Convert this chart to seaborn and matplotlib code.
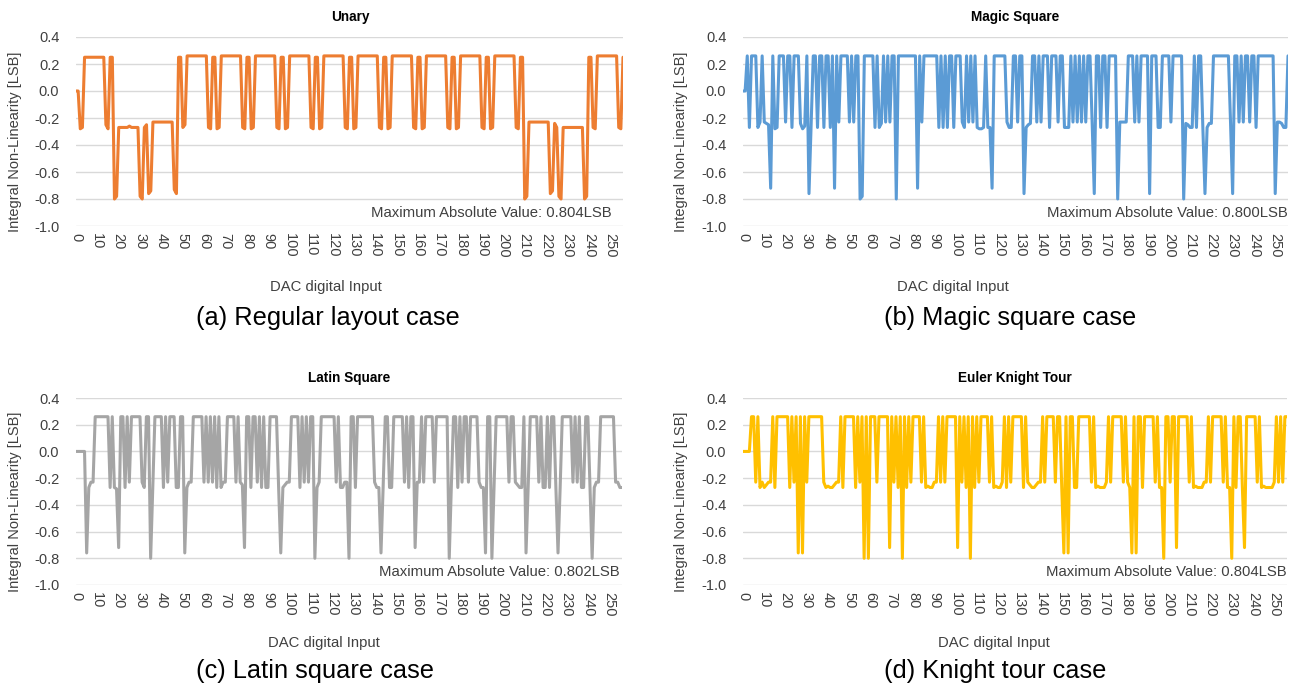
import matplotlib
matplotlib.use("Agg")
import matplotlib.pyplot as plt
import seaborn as sns
import pandas as pd
from matplotlib.ticker import FormatStrFormatter

# ---------------- data (INL in LSB for DAC codes 0..256) ----------------
unary = [
    0, 0, -0.28, -0.27, 0.25, 0.25, 0.25, 0.25, 0.25, 0.25,
    0.25, 0.25, 0.25, 0.25, -0.25, -0.28, 0.25, 0.25, -0.80, -0.78,
    -0.27, -0.27, -0.27, -0.27, -0.27, -0.26, -0.27, -0.27, -0.27, -0.27,
    -0.78, -0.80, -0.27, -0.25, -0.76, -0.74, -0.23, -0.23, -0.23, -0.23,
    -0.23, -0.23, -0.23, -0.23, -0.23, -0.23, -0.73, -0.76, 0.25, 0.25,
    -0.27, -0.25, 0.26, 0.26, 0.26, 0.26, 0.26, 0.26, 0.26, 0.26,
    0.26, 0.26, -0.27, -0.28, 0.25, 0.25, -0.28, -0.27, 0.26, 0.26,
    0.26, 0.26, 0.26, 0.26, 0.26, 0.26, 0.26, 0.26, -0.27, -0.28,
    0.25, 0.25, -0.28, -0.27, 0.26, 0.26, 0.26, 0.26, 0.26, 0.26,
    0.26, 0.26, 0.26, 0.26, -0.27, -0.28, 0.25, 0.25, -0.28, -0.27,
    0.26, 0.26, 0.26, 0.26, 0.26, 0.26, 0.26, 0.26, 0.26, 0.26,
    -0.27, -0.28, 0.25, 0.25, -0.28, -0.27, 0.26, 0.26, 0.26, 0.26,
    0.26, 0.26, 0.26, 0.26, 0.26, 0.26, -0.27, -0.28, 0.25, 0.25,
    -0.28, -0.27, 0.26, 0.26, 0.26, 0.26, 0.26, 0.26, 0.26, 0.26,
    0.26, 0.26, -0.27, -0.28, 0.25, 0.25, -0.28, -0.27, 0.26, 0.26,
    0.26, 0.26, 0.26, 0.26, 0.26, 0.26, 0.26, 0.26, -0.27, -0.28,
    0.25, 0.25, -0.28, -0.27, 0.26, 0.26, 0.26, 0.26, 0.26, 0.26,
    0.26, 0.26, 0.26, 0.26, -0.27, -0.28, 0.25, 0.25, -0.28, -0.27,
    0.26, 0.26, 0.26, 0.26, 0.26, 0.26, 0.26, 0.26, 0.26, 0.26,
    -0.27, -0.28, 0.25, 0.25, -0.28, -0.27, 0.26, 0.26, 0.26, 0.26,
    0.26, 0.26, 0.26, 0.26, 0.26, 0.26, -0.27, -0.28, 0.25, 0.25,
    -0.80, -0.78, -0.23, -0.23, -0.23, -0.23, -0.23, -0.23, -0.23, -0.23,
    -0.23, -0.23, -0.76, -0.74, -0.24, -0.27, -0.78, -0.80, -0.27, -0.27,
    -0.27, -0.27, -0.27, -0.27, -0.27, -0.27, -0.27, -0.27, -0.80, -0.78,
    0.25, 0.25, -0.27, -0.28, 0.26, 0.26, 0.26, 0.26, 0.26, 0.26,
    0.26, 0.26, 0.26, 0.26, -0.27, -0.28, 0.25,
]

magic = [
    0, 0, 0.26, -0.27, 0.26, 0.26, 0.26, -0.27, -0.23, 0.26,
    -0.23, -0.24, -0.25, -0.72, 0.26, -0.28, -0.27, 0.26, 0.26, 0.26,
    -0.23, 0.26, 0.26, -0.27, 0.26, 0.26, 0.26, -0.24, -0.28, -0.26,
    0.26, -0.76, -0.25, 0.26, 0.26, -0.27, 0.26, 0.26, -0.27, 0.26,
    0.26, -0.27, 0.26, -0.72, 0.26, -0.23, 0.26, 0.26, 0.26, 0.26,
    -0.23, 0.26, -0.23, 0.26, 0.26, -0.80, -0.78, 0.26, 0.26, 0.26,
    0.26, 0.26, -0.27, 0.26, -0.27, -0.24, 0.26, -0.23, 0.26, -0.23,
    0.26, 0.26, -0.80, 0.26, 0.26, 0.26, 0.26, 0.26, 0.26, 0.26,
    0.26, 0.26, -0.72, 0.26, -0.23, 0.26, 0.26, 0.26, 0.26, 0.26,
    0.26, 0.26, -0.27, 0.26, -0.27, 0.26, -0.27, 0.26, 0.26, -0.27,
    0.26, 0.26, 0.26, -0.23, -0.27, 0.26, -0.23, 0.26, -0.23, 0.26,
    -0.27, -0.28, -0.28, -0.27, 0.26, -0.27, -0.27, -0.72, 0.26, 0.26,
    0.26, 0.26, 0.26, 0.26, -0.23, -0.27, -0.27, 0.26, 0.26, -0.23,
    0.26, 0.26, -0.76, -0.27, -0.25, -0.24, 0.26, 0.26, -0.23, 0.26,
    -0.23, 0.26, 0.26, 0.26, -0.27, 0.26, 0.26, 0.26, -0.23, 0.26,
    0.26, -0.27, -0.27, -0.27, 0.26, -0.23, 0.26, -0.23, 0.26, -0.23,
    0.26, -0.23, 0.26, 0.26, -0.23, -0.76, 0.26, 0.26, -0.27, 0.26,
    0.26, -0.27, 0.26, 0.26, 0.26, 0.26, -0.80, -0.23, -0.23, -0.23,
    -0.23, 0.26, 0.26, 0.26, -0.23, 0.26, -0.23, 0.26, 0.26, 0.26,
    0.26, -0.76, 0.26, 0.26, 0.26, -0.27, -0.27, 0.26, 0.26, 0.26,
    0.26, -0.23, 0.26, 0.26, 0.26, 0.26, 0.26, -0.80, -0.24, -0.25,
    -0.27, -0.27, 0.26, -0.27, 0.26, 0.26, -0.27, -0.76, -0.27, -0.24,
    -0.24, 0.26, 0.26, 0.26, 0.26, 0.26, 0.26, 0.26, 0.26, -0.23,
    -0.76, 0.26, 0.26, -0.23, 0.26, -0.23, 0.26, 0.26, -0.23, 0.26,
    0.26, -0.27, 0.26, 0.26, 0.26, 0.26, 0.26, 0.26, 0.26, 0.26,
    -0.76, -0.23, -0.23, -0.24, -0.27, -0.27, 0.26,
]

latin = [
    0, 0, 0, 0, 0, -0.76, -0.27, -0.23, -0.23, 0.26,
    0.26, 0.26, 0.26, 0.26, 0.26, 0.26, -0.27, 0.26, -0.27, -0.28,
    -0.72, 0.26, 0.26, -0.27, 0.26, -0.23, 0.26, 0.26, 0.26, 0.26,
    0.26, -0.23, -0.27, 0.26, 0.26, -0.80, -0.27, 0.26, 0.26, 0.26,
    0.26, -0.27, 0.26, -0.23, 0.26, 0.26, 0.26, -0.27, -0.27, 0.26,
    0.26, -0.76, -0.27, -0.23, -0.23, 0.26, 0.26, 0.26, 0.26, 0.26,
    -0.23, 0.26, -0.23, 0.26, -0.23, 0.26, -0.27, 0.26, -0.27, -0.23,
    -0.23, 0.26, 0.26, 0.26, 0.26, -0.23, 0.26, -0.23, -0.25, -0.72,
    0.26, 0.26, -0.27, 0.26, 0.26, -0.23, 0.26, -0.27, 0.26, -0.27,
    -0.27, 0.26, 0.26, 0.26, 0.26, -0.27, -0.76, -0.27, -0.25, -0.23,
    -0.23, 0.26, 0.26, 0.26, 0.26, -0.27, 0.26, -0.23, 0.26, -0.23,
    0.26, 0.26, -0.80, -0.27, -0.23, 0.26, 0.26, 0.26, 0.26, 0.26,
    0.26, 0.26, -0.23, 0.26, -0.27, -0.27, -0.23, -0.23, -0.80, 0.26,
    0.26, -0.27, 0.26, 0.26, 0.26, 0.26, 0.26, 0.26, 0.26, 0.26,
    -0.23, -0.27, -0.27, -0.76, -0.27, 0.26, 0.26, -0.27, -0.27, 0.26,
    0.26, 0.26, 0.26, 0.26, -0.23, 0.26, -0.27, 0.26, 0.26, -0.72,
    -0.23, -0.23, 0.26, -0.23, 0.26, 0.26, 0.26, 0.26, -0.23, 0.26,
    0.26, 0.26, 0.26, 0.26, 0.26, -0.80, -0.25, 0.26, 0.26, -0.27,
    0.26, -0.23, 0.26, 0.26, -0.23, 0.26, 0.26, 0.26, 0.26, -0.23,
    -0.27, -0.27, -0.76, 0.26, 0.26, -0.80, -0.27, 0.26, 0.26, 0.26,
    0.26, 0.26, 0.26, -0.23, 0.26, 0.26, -0.23, -0.25, -0.27, -0.27,
    0.26, -0.76, -0.27, 0.26, 0.26, 0.26, 0.26, -0.23, 0.26, -0.27,
    -0.27, 0.26, -0.27, 0.26, 0.26, -0.27, -0.76, -0.27, 0.26, 0.26,
    0.26, 0.26, 0.26, -0.23, 0.26, -0.23, 0.26, -0.27, -0.27, 0.26,
    0.26, -0.27, -0.80, -0.27, -0.23, -0.23, 0.26, 0.26, 0.26, 0.26,
    0.26, 0.26, 0.26, -0.23, -0.23, -0.27, -0.27,
]

knight = [
    0, 0, 0, 0, 0.26, 0.26, -0.23, 0.26, -0.27, -0.23,
    -0.27, -0.25, -0.23, -0.23, 0.26, -0.27, 0.26, 0.26, 0.26, 0.26,
    0.26, 0.26, -0.27, 0.26, -0.23, 0.26, -0.76, 0.26, -0.76, 0.26,
    -0.23, 0.26, 0.26, 0.26, 0.26, 0.26, 0.26, 0.26, -0.23, -0.27,
    -0.26, -0.27, -0.27, -0.25, -0.23, -0.23, 0.26, -0.27, 0.26, 0.26,
    0.26, 0.26, 0.26, -0.27, 0.26, -0.23, 0.26, -0.80, 0.26, -0.80,
    0.26, 0.26, 0.26, -0.23, 0.26, 0.26, 0.26, 0.26, 0.26, -0.72,
    0.26, -0.23, 0.26, -0.27, 0.26, -0.80, 0.26, -0.27, 0.26, -0.23,
    0.26, 0.26, 0.26, 0.26, -0.23, 0.26, -0.27, -0.26, -0.27, -0.27,
    -0.23, -0.23, 0.26, -0.23, 0.26, -0.23, 0.26, 0.26, 0.26, 0.26,
    0.26, -0.72, 0.26, -0.23, 0.26, -0.27, 0.26, -0.80, 0.26, -0.27,
    0.26, -0.23, 0.26, 0.26, 0.26, 0.26, -0.23, 0.26, -0.27, -0.26,
    -0.27, -0.27, -0.23, 0.26, -0.27, 0.26, -0.23, 0.26, 0.26, 0.26,
    0.26, 0.26, -0.27, 0.26, -0.23, -0.25, -0.27, -0.27, -0.25, -0.23,
    -0.23, 0.26, -0.23, 0.26, 0.26, 0.26, 0.26, -0.23, 0.26, 0.26,
    -0.27, -0.76, 0.26, -0.76, 0.26, 0.26, -0.27, -0.27, 0.26, 0.26,
    0.26, 0.26, 0.26, 0.26, -0.23, 0.26, -0.27, -0.26, -0.27, -0.27,
    -0.27, -0.23, 0.26, -0.23, 0.26, 0.26, 0.26, 0.26, 0.26, -0.23,
    0.26, -0.23, -0.27, -0.76, 0.26, -0.76, 0.26, 0.26, -0.27, 0.26,
    0.26, 0.26, 0.26, 0.26, -0.23, 0.26, -0.27, -0.27, -0.80, 0.26,
    0.26, -0.23, 0.26, 0.26, -0.72, 0.26, 0.26, 0.26, 0.26, 0.26,
    -0.23, 0.26, -0.27, -0.26, -0.27, -0.27, -0.27, -0.23, -0.23, 0.26,
    -0.23, 0.26, 0.26, 0.26, 0.26, 0.26, -0.23, 0.26, -0.27, -0.27,
    -0.80, 0.26, -0.27, 0.26, 0.26, -0.27, -0.72, 0.26, 0.26, 0.26,
    0.26, 0.26, -0.23, 0.26, -0.27, -0.26, -0.27, -0.27, -0.27, -0.27,
    -0.23, 0.26, -0.23, 0.26, -0.23, 0.26, 0.26,
]

titles = ["Unary", "Magic Square", "Latin Square", "Euler Knight Tour"]
captions = ["(a) Regular layout case", "(b) Magic square case",
            "(c) Latin square case", "(d) Knight tour case"]
max_labels = ["Maximum Absolute Value: 0.804LSB", "Maximum Absolute Value: 0.800LSB",
              "Maximum Absolute Value: 0.802LSB", "Maximum Absolute Value: 0.804LSB"]
colors = ["#ED7D31", "#5B9BD5", "#A5A5A5", "#FFC000"]
series = [unary, magic, latin, knight]
y_ticks = [0.4, 0.2, 0.0, -0.2, -0.4, -0.6, -0.8, -1.0]
x_ticks = list(range(0, 251, 10))

# ---------------- style ----------------
sns.set_theme(style="white")
plt.rcParams["font.family"] = ["Liberation Sans", "DejaVu Sans"]
plt.rcParams["axes.unicode_minus"] = False

W, H = 1301, 690
fig = plt.figure(figsize=(W / 100, H / 100), dpi=100)
fig.patch.set_facecolor("white")


def rect(l, r, t, b):
    return [l / W, 1 - b / H, (r - l) / W, (b - t) / H]


# pixel layout: (left, right, top, bottom) of each plot area
boxes = [(76, 623, 37, 226), (743, 1288, 37, 226),
         (76, 622, 398, 585), (743, 1287, 398, 585)]
title_pos = [(350, 17), (1015, 17), (349, 378), (1015, 378)]
xlabel_pos = [(326, 287), (953, 287), (324, 643), (994, 643)]
caption_pos = [(328, 318), (1010, 318), (315, 671), (995, 671)]
ylabel_x = [15, 681, 15, 681]
maxtxt_pos = [(612, 213), (1288, 213), (620, 572), (1287, 572)]

for i in range(4):
    l, r, t, b = boxes[i]
    ax = fig.add_axes(rect(l, r, t, b))
    vals = series[i]
    df = pd.DataFrame({"code": range(len(vals)), "inl": vals})
    sns.lineplot(data=df, x="code", y="inl", ax=ax, color=colors[i],
                 linewidth=2.2, estimator=None, sort=False)
    ax.set_xlim(0, 256)
    ax.set_ylim(-1.0, 0.4)
    ax.set_yticks(y_ticks)
    ax.yaxis.set_major_formatter(FormatStrFormatter("%.1f"))
    ax.set_xticks(x_ticks)
    ax.set_xticklabels([str(v) for v in x_ticks], rotation=-90)
    ax.tick_params(axis="y", length=0, pad=12, labelsize=10.5, colors="#404040")
    ax.tick_params(axis="x", length=0, pad=5, labelsize=10.5, colors="#404040")
    ax.grid(axis="y", color="#D9D9D9", linewidth=1.0)
    ax.grid(axis="x", visible=False)
    ax.set_axisbelow(True)
    for s in ax.spines.values():
        s.set_visible(False)
    ax.set_xlabel("")
    ax.set_ylabel("")

    fig.text(title_pos[i][0] / W, 1 - title_pos[i][1] / H, titles[i],
             ha="center", va="center", fontsize=9.8, fontweight="bold", color="#000000")
    fig.text(xlabel_pos[i][0] / W, 1 - xlabel_pos[i][1] / H, "DAC digital Input",
             ha="center", va="center", fontsize=10.7, color="#404040")
    fig.text(caption_pos[i][0] / W, 1 - caption_pos[i][1] / H, captions[i],
             ha="center", va="center", fontsize=18.3, color="#000000")
    fig.text(ylabel_x[i] / W, 1 - ((t + b) / 2 + 10) / H, "Integral Non-Linearity [LSB]",
             ha="center", va="center", rotation=90, fontsize=10.5, color="#404040")
    fig.text(maxtxt_pos[i][0] / W, 1 - maxtxt_pos[i][1] / H, max_labels[i],
             ha="right", va="center", fontsize=10.7, color="#404040")

fig.savefig("out.png", dpi=100, facecolor="white")
